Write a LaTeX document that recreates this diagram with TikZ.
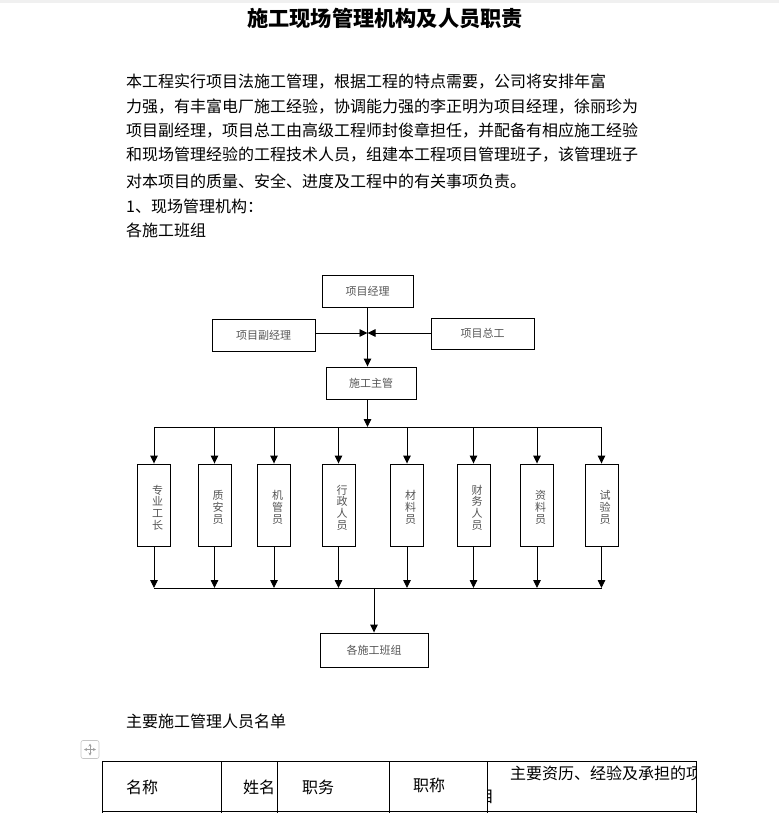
\documentclass[tikz,border=0pt]{standalone}
\usepackage{fontspec}
\setmainfont{Noto Sans CJK SC}
\usetikzlibrary{arrows.meta}
\definecolor{charttext}{HTML}{555555}

\begin{document}
\begin{tikzpicture}[x=1pt, y=-1pt,
    doc/.style={anchor=west, inner sep=0pt, font=\fontsize{16}{16}\selectfont},
    box/.style={draw, line width=0.9pt, inner sep=0pt, text=charttext, font=\fontsize{11}{11}\selectfont},
    hbox/.style={box, minimum height=32pt},
    vbox/.style={box, minimum width=33pt, minimum height=82pt},
    vtext/.style={text=charttext, align=center, inner sep=0pt, xshift=3.5pt, yshift=-2.5pt, font=\fontsize{11}{11.7}\selectfont},
    flow/.style={line width=0.9pt, -{Triangle[width=7.5pt,length=8pt]}},
    rule/.style={line width=0.9pt}]
    \useasboundingbox (0,0) rectangle (779,813);
    \fill[gray!12] (0,0) rectangle (779,3);

    % Title and text
    \node[inner sep=0pt, font=\fontsize{21.2}{21.2}\selectfont\bfseries] (title) at (385,18) {施工现场管理机构及人员职责};
    \node[doc] (line1) at (126,82) {本工程实行项目法施工管理，根据工程的特点需要，公司将安排年富};
    \node[doc] (line2) at (126,107) {力强，有丰富电厂施工经验，协调能力强的李正明为项目经理，徐丽珍为};
    \node[doc] (line3) at (126,131) {项目副经理，项目总工由高级工程师封俊章担任，并配备有相应施工经验};
    \node[doc] (line4) at (126,155) {和现场管理经验的工程技术人员，组建本工程项目管理班子，该管理班子};
    \node[doc] (line5) at (126,181) {对本项目的质量、安全、进度及工程中的有关事项负责。};
    \node[doc] (line6) at (126,206) {1、现场管理机构：};
    \node[doc] (line7) at (126,230) {各施工班组};

    % Upper boxes
    \node[hbox, minimum width=91pt] (pm) at (367.5,291) {项目经理};
    \node[hbox, minimum width=103pt] (dpm) at (263.5,335) {项目副经理};
    \node[hbox, minimum width=103pt, minimum height=31pt] (ce) at (482.5,333.5) {项目总工};
    \node[hbox, minimum width=90pt] (sup) at (371,383) {施工主管};
    \draw[flow] (pm.south) -- (pm.south |- sup.north);
    \draw[flow] (dpm.east |- 0,333) -- (pm.south |- 0,333);
    \draw[flow] (ce.west |- 0,333) -- (pm.south |- 0,333);

    % Staff
    \foreach \x/\nm/\txt in {154/s1/{专\\业\\工\\长}, 214.5/s2/{质\\安\\员}, 274/s3/{机\\管\\员},
        338.5/s4/{行\\政\\人\\员}, 407/s5/{材\\料\\员}, 473.5/s6/{财\\务\\人\\员},
        537/s7/{资\\料\\员}, 601.5/s8/{试\\验\\员}} {
        \node[vbox] (\nm) at (\x,505) {};
        \node[vtext] (\nm text) at (\nm.center) {\txt};
    }
    \node[hbox, minimum width=108pt, minimum height=34pt] (crew) at (374,650) {各施工班组};

    % Buses
    \coordinate (bustop) at (367.5,427);
    \coordinate (busbot) at (374,588);
    \draw[flow] (pm.south |- sup.south) -- (bustop);
    \draw[rule] (s1.north |- bustop) -- (s8.north |- bustop);
    \draw[rule] (s1.south |- busbot) -- (s8.south |- busbot);
    \foreach \nm in {s1,s2,s3,s4,s5,s6,s7,s8} {
        \draw[flow] (\nm.north |- bustop) -- (\nm.north);
        \draw[flow] (\nm.south) -- (\nm.south |- busbot);
    }
    \draw[flow] (busbot) -- (crew.north);

    % Staff list
    \node[doc] (listhead) at (126,721) {主要施工管理人员名单};
    \node[draw=gray!45, rounded corners=2pt, minimum size=18pt, line width=0.6pt, inner sep=0pt] (handle) at (90,749.5) {};
    \draw[gray!75, line width=0.5pt, {Stealth[length=3pt,width=3pt]}-{Stealth[length=3pt,width=3pt]}]
        ([xshift=-6pt]handle.center) -- ([xshift=6pt]handle.center);
    \draw[gray!75, line width=0.5pt, {Stealth[length=3pt,width=3pt]}-{Stealth[length=3pt,width=3pt]}]
        ([yshift=-6pt]handle.center) -- ([yshift=6pt]handle.center);
    \draw[rule] (102,761) -- (696,761);
    \draw[rule] (102,811) -- (696,811);
    \foreach \cx in {102,221,277,389,487,696}
        \draw[rule] (\cx,761) -- (\cx,813);
    \node[doc] (cname) at (126,787) {名称};
    \node[doc] (cperson) at (243,787) {姓名};
    \node[doc] (cpost) at (302,787) {职务};
    \node[doc] (ctitle) at (413,785) {职称};
    \begin{scope}
        \clip (487.5,761) rectangle (695.5,811);
        \node[doc] (cexp) at (510,773) {主要资历、经验及承担的项};
        \node[doc] (cexpwrap) at (478,797) {目};
    \end{scope}
\end{tikzpicture}
\end{document}
